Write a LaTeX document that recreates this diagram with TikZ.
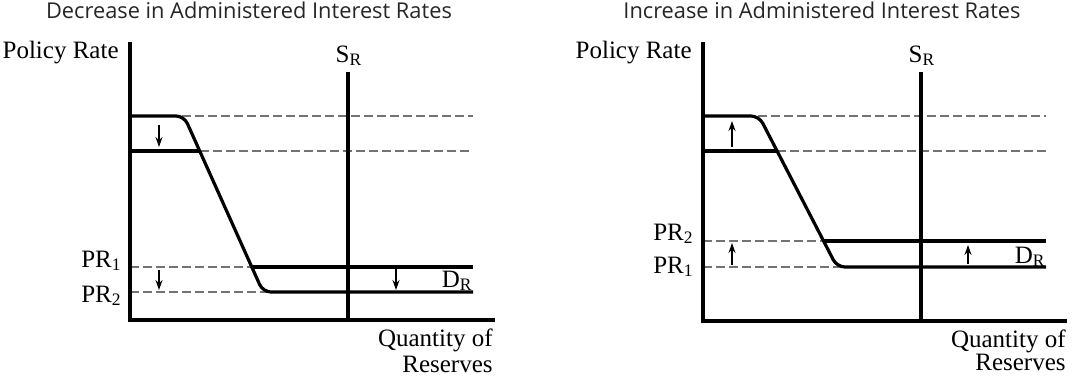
\documentclass[tikz,border=0pt]{standalone}
\usepackage{fontspec}
\setmainfont{Liberation Serif}
\newfontfamily\titlefont{Open Sans}
\usetikzlibrary{arrows.meta}

\begin{document}
\begin{tikzpicture}[x=0.5pt,y=-0.5pt,
    axis/.style={line width=1.6pt},
    curve/.style={line width=1.6pt,rounded corners=4pt},
    guide/.style={draw=black!55,line width=0.75pt,dash pattern=on 4.5pt off 2pt},
    movearrow/.style={line width=0.8pt,-{Stealth[length=5pt,width=3.5pt]}},
    lbl/.style={font=\fontsize{12.5}{14}\selectfont,inner sep=0pt,anchor=base east},
    ttl/.style={font=\titlefont\fontsize{10.9}{13}\selectfont,text=black!85,inner sep=0pt,anchor=base}]
\useasboundingbox (0,0) rectangle (1080,387);

% left panel: decrease
\node[ttl] (Ltitle) at (249,18) {Decrease in Administered Interest Rates};
\coordinate (Ltop) at (130,42);
\coordinate (Lo) at (130,320);
\coordinate (Lend) at (495,320);
\coordinate (LStop) at (348,72);
\coordinate (LSbot) at (348,320);
\draw[guide] (182,116) -- (473,116);
\draw[guide] (200,151) -- (473,151);
\draw[guide] (130,267) -- (252,267);
\draw[guide] (130,292) -- (268,292);
\draw[axis] (Ltop) -- (Lo) -- (Lend);
\draw[axis] (LStop) -- (LSbot);
\draw[curve] (130,116) -- (184,116) -- (263,292) -- (473,292);
\draw[curve] (130,151) -- (200,151);
\draw[curve] (252,267) -- (473,267);
\draw[movearrow] (159,125) -- (159,147);
\draw[movearrow] (159,270) -- (159,290);
\draw[movearrow] (396,269) -- (396,290);
\node[lbl] (Lpol) at (119,58) {Policy Rate};
\node[lbl,anchor=base] (LSR) at (349,62) {S\textsubscript{R}};
\node[lbl] (LPRa) at (122,267) {PR\textsubscript{1}};
\node[lbl] (LPRb) at (122,302) {PR\textsubscript{2}};
\node[lbl] (LDR) at (473,287) {D\textsubscript{R}};
\node[lbl] (Lqty) at (493,346) {Quantity of};
\node[lbl] (Lres) at (493,372) {Reserves};

% right panel: increase
\node[ttl] (Rtitle) at (822,18) {Increase in Administered Interest Rates};
\coordinate (Rtop) at (703,42);
\coordinate (Ro) at (703,321);
\coordinate (Rend) at (1067,321);
\coordinate (RStop) at (921,72);
\coordinate (RSbot) at (921,321);
\draw[guide] (758,116) -- (1046,116);
\draw[guide] (777,151) -- (1046,151);
\draw[guide] (703,241) -- (824,241);
\draw[guide] (703,267) -- (842,267);
\draw[axis] (Rtop) -- (Ro) -- (Rend);
\draw[axis] (RStop) -- (RSbot);
\draw[curve] (703,116) -- (759,116) -- (837,267) -- (1046,267);
\draw[curve] (703,151) -- (777,151);
\draw[curve] (824,241) -- (1046,241);
\draw[movearrow] (732,147) -- (732,121);
\draw[movearrow] (732,265) -- (732,243);
\draw[movearrow] (968,264) -- (968,245);
\node[lbl] (Rpol) at (692,58) {Policy Rate};
\node[lbl,anchor=base] (RSR) at (922,62) {S\textsubscript{R}};
\node[lbl] (RPRb) at (694,240) {PR\textsubscript{2}};
\node[lbl] (RPRa) at (694,273) {PR\textsubscript{1}};
\node[lbl] (RDR) at (1046,263) {D\textsubscript{R}};
\node[lbl] (Rqty) at (1066,347) {Quantity of};
\node[lbl] (Rres) at (1066,370) {Reserves};
\end{tikzpicture}
\end{document}
